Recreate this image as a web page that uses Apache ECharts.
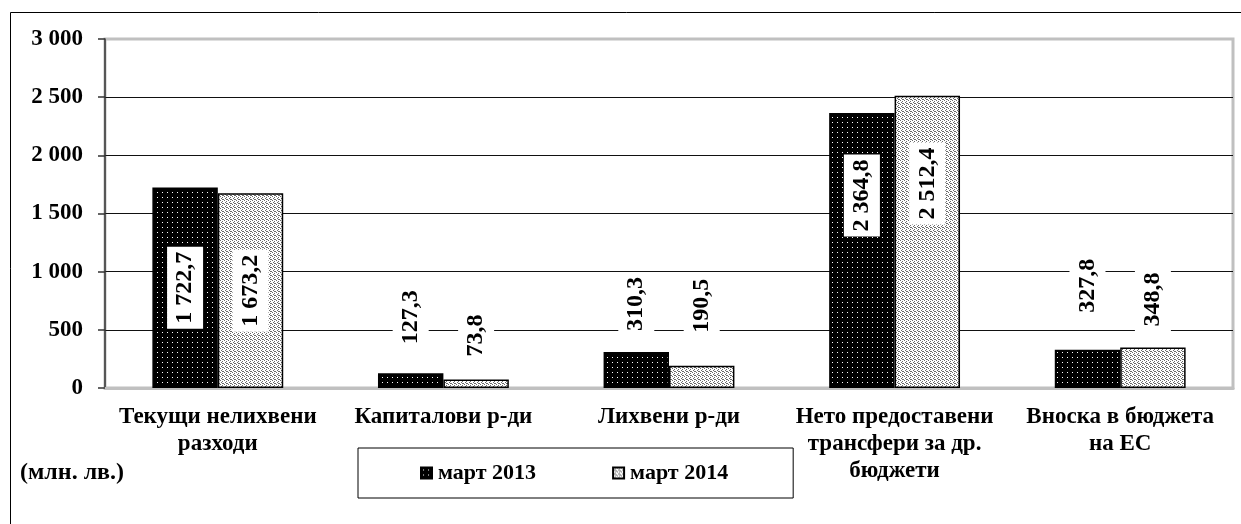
<!DOCTYPE html>
<html>
<head>
<meta charset="utf-8">
<script src="https://cdn.jsdelivr.net/npm/echarts@6/dist/echarts.min.js"></script>
<style>
html,body{margin:0;padding:0;background:#fff;}
#c{width:1241px;height:524px;}
</style>
</head>
<body>
<div id="c"></div>
<script>
const categories = ['Текущи нелихвени\nразходи', 'Капиталови р-ди', 'Лихвени р-ди', 'Нето предоставени\nтрансфери за др.\nбюджети', 'Вноска в бюджета\nна ЕС'];
const seriesNames = ['март 2013', 'март 2014'];
const values2013 = [1722.7, 127.3, 310.3, 2364.8, 327.8];
const values2014 = [1673.2, 73.8, 190.5, 2512.4, 348.8];
const yTicks = [0, 500, 1000, 1500, 2000, 2500, 3000];
const unitText = '(млн. лв.)';

// label placement styling (as in the reference: manual placement)
const labelPlace = ['inside', 'top', 'top', 'upper', 'top'];
const labelGap2013 = [0, 24, 16, 0, 32];
const labelGap2014 = [0, 18, 28, 0, 16];

const FONT = "'Liberation Serif', 'Times New Roman', serif";

function makePattern(bg, fg, w, h, pts) {
  const c = document.createElement('canvas');
  c.width = w; c.height = h;
  const ctx = c.getContext('2d');
  ctx.fillStyle = bg; ctx.fillRect(0, 0, w, h);
  ctx.fillStyle = fg;
  pts.forEach(p => ctx.fillRect(p[0], p[1], 1, 1));
  return c;
}
const darkPat = { image: makePattern('#000', '#fff', 5, 5, [[2, 2]]), repeat: 'repeat' };
const lightPat = { image: makePattern('#fff', '#6a6a6a', 4, 4, [[0, 0], [2, 1], [1, 2], [3, 3], [2, 3]]), repeat: 'repeat' };

function fmt(v) {
  const s = v.toFixed(1).split('.');
  const int = s[0].replace(/\B(?=(\d{3})+(?!\d))/g, ' ');
  return int + ',' + s[1];
}
function fmtInt(v) {
  return String(v).replace(/\B(?=(\d{3})+(?!\d))/g, ' ');
}

function buildData(vals, gaps) {
  return vals.map((v, i) => {
    const pl = labelPlace[i];
    let label;
    if (pl === 'inside') {
      label = { position: 'inside', rotate: 90, align: 'center', verticalAlign: 'middle' };
    } else if (pl === 'upper') {
      label = { position: ['50%', '30%'], rotate: 90, align: 'center', verticalAlign: 'middle' };
    } else {
      label = { position: 'top', rotate: 90, align: 'left', verticalAlign: 'middle', distance: gaps[i] };
    }
    return { value: v, label: label };
  });
}

const labelStyle = {
  show: true,
  formatter: p => fmt(p.value),
  fontFamily: FONT,
  fontWeight: 'bold',
  fontSize: 24,
  color: '#000',
  backgroundColor: '#fff',
  padding: [7, 5, 5, 5]
};

const chart = echarts.init(document.getElementById('c'), null, { renderer: 'canvas' });
chart.setOption({
  animation: false,
  backgroundColor: '#fff',
  grid: {
    left: 105, right: 8, top: 39, bottom: 136,
    show: true, borderColor: '#c0c0c0', borderWidth: 3, backgroundColor: 'transparent'
  },
  xAxis: {
    type: 'category',
    data: categories,
    axisLine: { show: true, lineStyle: { color: '#c0c0c0', width: 3 } },
    axisTick: { show: false },
    axisLabel: {
      interval: 0, margin: 16,
      fontFamily: FONT, fontWeight: 'bold', fontSize: 23, color: '#000', lineHeight: 27
    }
  },
  yAxis: {
    type: 'value',
    min: yTicks[0], max: yTicks[yTicks.length - 1], interval: 500,
    axisLine: { show: true, lineStyle: { color: '#333', width: 1.5 } },
    axisTick: { show: true, length: 7, lineStyle: { color: '#333', width: 1.5 } },
    axisLabel: {
      margin: 22,
      formatter: v => fmtInt(v),
      fontFamily: FONT, fontWeight: 'bold', fontSize: 23, color: '#000'
    },
    splitLine: { show: true, showMaxLine: false, lineStyle: { color: '#111', width: 1 } }
  },
  legend: {
    data: seriesNames,
    left: 358, top: 448,
    padding: [14, 65, 14, 62],
    itemGap: 76,
    itemWidth: 11, itemHeight: 11,
    icon: 'rect',
    borderColor: '#000', borderWidth: 1,
    textStyle: { fontFamily: FONT, fontWeight: 'bold', fontSize: 22, color: '#000', padding: [0, 0, 0, 1] }
  },
  series: [
    {
      name: seriesNames[0], type: 'bar',
      data: buildData(values2013, labelGap2013),
      barGap: '0%', barCategoryGap: '42%',
      itemStyle: { color: darkPat, borderColor: '#000', borderWidth: 1.5 },
      label: labelStyle,
      z: 3
    },
    {
      name: seriesNames[1], type: 'bar',
      data: buildData(values2014, labelGap2014),
      barGap: '0%', barCategoryGap: '42%',
      itemStyle: { color: lightPat, borderColor: '#000', borderWidth: 1.5 },
      label: labelStyle,
      z: 3
    }
  ],
  graphic: [
    {
      type: 'rect', silent: true, z: -1,
      shape: { x: 10.5, y: 12.5, width: 1400, height: 700 },
      style: { fill: 'none', stroke: '#000', lineWidth: 1 }
    },
    {
      type: 'text', left: 20, top: 461,
      style: { text: unitText, font: 'bold 24px ' + FONT, fill: '#000' }
    }
  ]
});
</script>
</body>
</html>
